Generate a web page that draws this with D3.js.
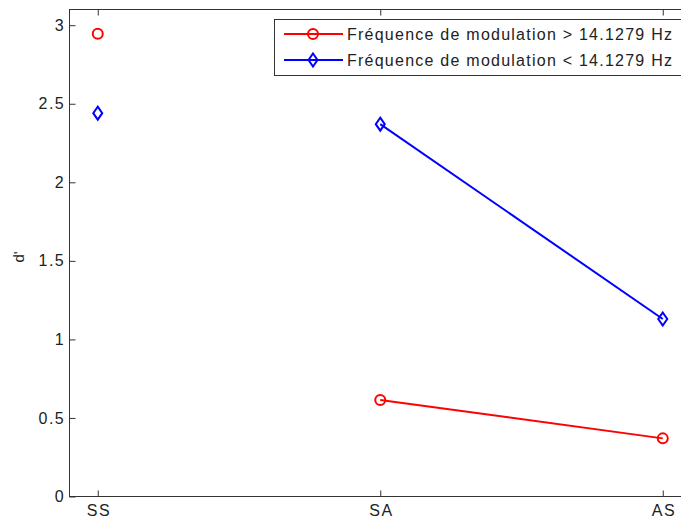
<!DOCTYPE html>
<html>
<head>
<meta charset="utf-8">
<script src="https://cdn.jsdelivr.net/npm/d3@7"></script>
<style>
  body { margin: 0; background: #fff; }
  svg { display: block; font-family: "Liberation Sans", Arial, sans-serif; }
</style>
</head>
<body>
<div id="chart"></div>
<script>
// conditions on the x axis
const categories = ["SS", "SA", "AS"];
// d' values per condition
const redValues = [2.945, 0.615, 0.37];
const blueValues = [2.44, 2.37, 1.13];
const yTicks = [0, 0.5, 1, 1.5, 2, 2.5, 3];
const seriesNames = [
  "Fréquence de modulation > 14.1279 Hz",
  "Fréquence de modulation < 14.1279 Hz"
];

const width = 681;
const height = 518;
const mLeft = 69.5, mTop = 9.5, mBottom = 496.5, mRight = 691;

const svg = d3.select("#chart").append("svg")
  .attr("width", width)
  .attr("height", height);

const x = d3.scaleLinear().domain([0.9, 3.1]).range([mLeft, mRight]);
const y = d3.scaleLinear().domain([0, 3.1]).range([mBottom, mTop]);

// box
svg.append("rect")
  .attr("x", mLeft).attr("y", mTop)
  .attr("width", mRight - mLeft).attr("height", mBottom - mTop)
  .attr("fill", "none").attr("stroke", "#333").attr("stroke-width", 1);

const idx = categories.map((d, i) => i + 1);

// bottom axis (ticks inside)
svg.append("g")
  .attr("transform", `translate(0,${mBottom})`)
  .call(d3.axisBottom(x).tickValues(idx).tickFormat(i => categories[i - 1]).tickSizeInner(-6).tickSizeOuter(0).tickPadding(8));
// top ticks
svg.append("g")
  .attr("transform", `translate(0,${mTop})`)
  .call(d3.axisTop(x).tickValues(idx).tickFormat("").tickSizeInner(-6).tickSizeOuter(0));

// left axis
svg.append("g")
  .attr("transform", `translate(${mLeft},0)`)
  .call(d3.axisLeft(y).tickValues(yTicks).tickFormat(d3.format("")).tickSizeInner(-6).tickSizeOuter(0).tickPadding(5));

svg.selectAll(".domain").remove();
svg.selectAll(".tick line").attr("stroke", "#333");
svg.selectAll(".tick text").attr("font-size", 16).attr("fill", "#222")
  .attr("letter-spacing", "1.5px")
  .attr("font-family", "Liberation Sans, Arial, sans-serif");
// compensate trailing letter spacing on centred x labels
svg.selectAll(".tick text").filter(function () { return this.getAttribute("text-anchor") !== "end"; })
  .attr("dx", "0.75");

// y label
svg.append("text")
  .attr("transform", `translate(24,${(mTop + mBottom) / 2 + 4}) rotate(-90)`)
  .attr("text-anchor", "middle")
  .attr("font-size", 15)
  .attr("fill", "#222")
  .text("d'");

// lines: only SA -> AS are linked
const line = d3.line()
  .defined(d => d.linked)
  .x(d => x(d.i))
  .y(d => y(d.v));

function seriesData(vals) {
  return vals.map((v, k) => ({ i: k + 1, v: v, linked: k > 0 }));
}

const series = [
  { values: redValues, color: "#ff0000", marker: "circle" },
  { values: blueValues, color: "#0000ff", marker: "diamond" }
];

function drawMarker(g, type, cx, cy, color) {
  if (type === "circle") {
    g.append("circle")
      .attr("cx", cx).attr("cy", cy).attr("r", 5)
      .attr("fill", "none").attr("stroke", color).attr("stroke-width", 2);
  } else {
    g.append("path")
      .attr("d", `M${cx},${cy - 6.5}L${cx + 4.5},${cy}L${cx},${cy + 6.5}L${cx - 4.5},${cy}Z`)
      .attr("fill", "none").attr("stroke", color).attr("stroke-width", 2);
  }
}

series.forEach(s => {
  const data = seriesData(s.values);
  svg.append("path")
    .datum(data)
    .attr("d", line)
    .attr("fill", "none")
    .attr("stroke", s.color)
    .attr("stroke-width", 2);
  const g = svg.append("g");
  data.forEach(d => drawMarker(g, s.marker, x(d.i), y(d.v), s.color));
});

// legend
const leg = svg.append("g");
leg.append("rect")
  .attr("x", 274.5).attr("y", 19.5)
  .attr("width", 430).attr("height", 56)
  .attr("fill", "#fff").attr("stroke", "#333").attr("stroke-width", 1);

series.forEach((s, k) => {
  const yy = 34 + k * 26;
  leg.append("line")
    .attr("x1", 284).attr("x2", 343)
    .attr("y1", yy).attr("y2", yy)
    .attr("stroke", s.color).attr("stroke-width", 2);
  drawMarker(leg, s.marker, 313, yy, s.color);
  leg.append("text")
    .attr("x", 347).attr("y", yy + 6)
    .attr("font-size", 16)
    .attr("fill", "#222")
    .attr("textLength", 325)
    .attr("lengthAdjust", "spacing")
    .text(seriesNames[k]);
});
</script>
</body>
</html>
